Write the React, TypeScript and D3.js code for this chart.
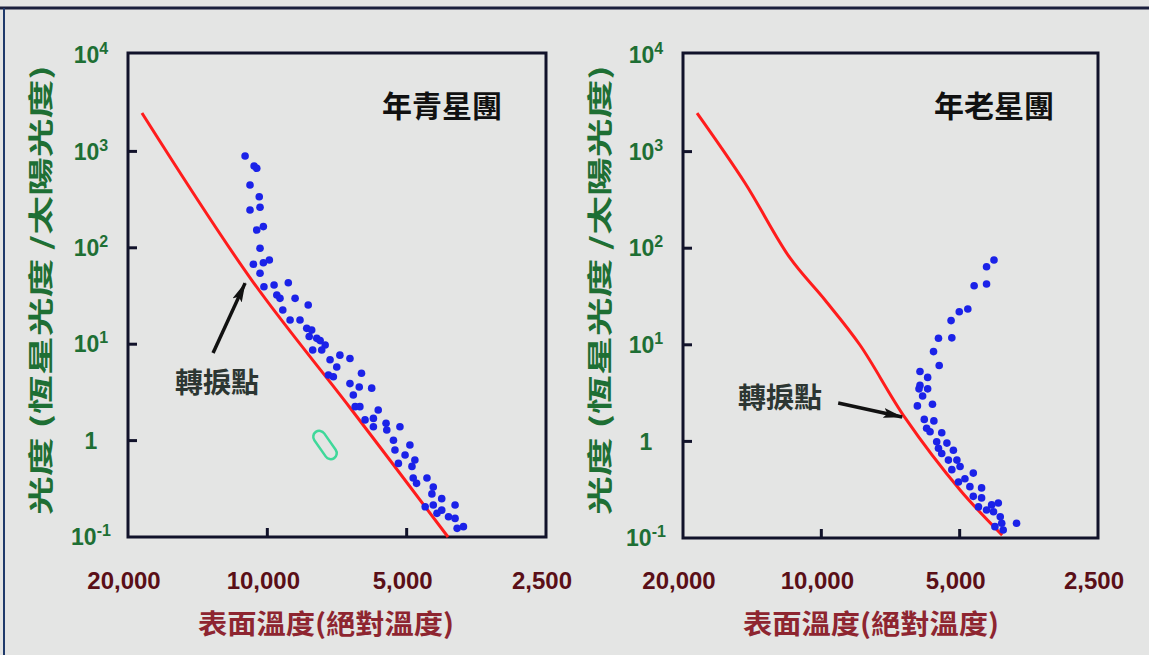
import React from "react";
import * as d3 from "d3";

const W = 1149;
const H = 655;

// axis ticks
const lumTicks = [0.1, 1, 10, 100, 1000, 10000];
const lumBase = ["10", "1", "10", "10", "10", "10"];
const lumExp = ["-1", "", "1", "2", "3", "4"];
const tempTicks = [20000, 10000, 5000, 2500];
const tempLabels = ["20,000", "10,000", "5,000", "2,500"];

// young cluster: main sequence line
const youngLineT = [18660, 10800, 6620, 4070];
const youngLineL = [2500, 46, 2.18, 0.1];

// young cluster: stars
const youngStarsT = [
  11170, 10680, 10540, 10900, 10410, 10900, 10370, 10200, 10540, 10370,
  10720, 10200, 9900, 10370, 10170, 9670, 9010, 9540, 9390, 8710,
  8160, 9260, 8930, 8500, 8220, 8020, 8120, 7820, 7690, 7500,
  7980, 7630, 6970, 6630, 7320, 7080, 7380, 7200, 6260, 6630,
  6330, 5950, 6520, 6460, 6310, 5900, 6150, 5760, 5540, 5900,
  5520, 5170, 5340, 4920, 5300, 5040, 4800, 5210, 4870, 4840,
  4520, 4760, 4380, 4410, 4200, 4560, 4380, 3930, 4200, 4060,
  3930, 3770, 3890, 4300,
];
const youngStarsL = [
  896, 706, 668, 448, 339, 247, 263, 166, 153, 98.8,
  67.4, 70, 74.7, 54.4, 39.5, 41.1, 43.4, 32.4, 29.9, 29.9,
  25.5, 22.6, 17.8, 17.8, 14.6, 14, 12, 11.5, 10.9, 9.8,
  8.7, 8.7, 7.7, 7.1, 6.9, 5.8, 4.8, 4.6, 5, 3.9,
  3.6, 3.5, 2.97, 2.25, 2.25, 1.7, 1.64, 2.08, 1.51, 1.39,
  1.29, 1.39, 1.01, 0.9, 0.8, 0.71, 0.63, 0.58, 0.54, 0.41,
  0.41, 0.36, 0.33, 0.28, 0.25, 0.206, 0.215, 0.215, 0.19, 0.162,
  0.156, 0.128, 0.123, 0.176,
];

// old cluster: main sequence line
const oldLineT = [18640, 14660, 11700, 9820, 8240, 6570, 4990, 4040];
const oldLineL = [2500, 473, 79.2, 29.1, 9.95, 1.75, 0.314, 0.107];

// old cluster: stars
const oldStarsT = [
  4210, 4370, 4370, 4650, 4800, 5010, 5220, 5200, 5560, 5700,
  5540, 6100, 5870, 6100, 6130, 5870, 6020, 5730, 6180, 5970,
  5690, 5900, 5800, 5470, 5610, 5330, 5560, 5470, 5160, 5290,
  5070, 4990, 5200, 4670, 4870, 5030, 4750, 4480, 4670, 4480,
  4260, 4120, 4550, 4220, 4370, 4080, 4050, 4190, 4020, 3760,
];
const oldStarsL = [
  75.5, 64.3, 42.6, 40.9, 23.5, 22, 17.8, 11.8, 11.7, 8.5,
  6.1, 5.3, 4.6, 3.8, 3.5, 3.5, 2.95, 2.42, 2.33, 1.69,
  1.63, 1.37, 1.26, 1.23, 0.99, 0.96, 0.85, 0.75, 0.81, 0.64,
  0.64, 0.55, 0.51, 0.47, 0.41, 0.38, 0.34, 0.33, 0.27, 0.26,
  0.22, 0.23, 0.21, 0.187, 0.195, 0.166, 0.142, 0.131, 0.121, 0.142,
];

// turnoff annotations [tailT, tailL, headT, headL, textT, textL]
const youngArrow = [13100, 8.1, 11170, 43, 12840, 4.0];
const oldArrow = [9190, 2.5, 6670, 1.79, 12300, 2.8];

const GREEN = "#1e6f34";
const MAROON = "#5a0f17";
const RED_TITLE = "#8e2530";
const INK = "#11122a";
const NUM_FONT = "'Liberation Sans', Arial, sans-serif";
const CJK_FONT = "'Noto Sans CJK TC', 'Noto Sans CJK SC', sans-serif";

type PanelProps = {
  id: string;
  xr: [number, number];
  yr: [number, number];
  title: string;
  lineT: number[];
  lineL: number[];
  starsT: number[];
  starsL: number[];
  arrow: number[];
  xTitleX: number;
  yTitleX: number;
};

function Panel(p: PanelProps) {
  const x = d3.scaleLog().domain([20000, 2500]).range(p.xr);
  const y = d3.scaleLog().domain([0.1, 10000]).range(p.yr);
  const [left, right] = p.xr;
  const [bottom, top] = p.yr;

  const line = d3
    .line<number>()
    .x((_, i) => x(p.lineT[i]))
    .y((_, i) => y(p.lineL[i]))
    .curve(d3.curveCatmullRom.alpha(0.5));

  const [tT, tL, hT, hL, txT, txL] = p.arrow;

  return (
    <g>
      <defs>
        <marker
          id={`head-${p.id}`}
          viewBox="0 0 20 10"
          refX="19"
          refY="5"
          markerWidth="20"
          markerHeight="10"
          markerUnits="userSpaceOnUse"
          orient="auto"
        >
          <path d="M0,0 L20,5 L0,10 L4,5 Z" fill="#111" />
        </marker>
      </defs>

      {/* frame */}
      <path
        d={`M${left},${top - 2} H${right} V${bottom} H${left} Z`}
        fill="none"
        stroke={INK}
        strokeWidth={3}
      />

      {/* y ticks */}
      {lumTicks.map((v, i) => (
        <g key={"yt" + i}>
          {i > 0 && i < lumTicks.length - 1 && (
            <line x1={left} x2={left + 9} y1={y(v)} y2={y(v)} stroke={INK} strokeWidth={3} />
          )}
          <text
            x={left - 37}
            y={y(v)}
            dy="0.36em"
            textAnchor="middle"
            fontFamily={NUM_FONT}
            fontWeight="bold"
            fontSize={23}
            fill={GREEN}
          >
            {lumBase[i]}
            {lumExp[i] && (
              <tspan dy="-9" fontSize={16}>
                {lumExp[i]}
              </tspan>
            )}
          </text>
        </g>
      ))}

      {/* x ticks */}
      {tempTicks.map((v, i) => (
        <g key={"xt" + i}>
          {i > 0 && i < tempTicks.length - 1 && (
            <line x1={x(v)} x2={x(v)} y1={bottom} y2={bottom - 9} stroke={INK} strokeWidth={3} />
          )}
          <text
            x={x(v) - 4}
            y={589}
            textAnchor="middle"
            fontFamily={NUM_FONT}
            fontWeight="bold"
            fontSize={24}
            fill={MAROON}
          >
            {tempLabels[i]}
          </text>
        </g>
      ))}

      {/* main sequence */}
      <path d={line(p.lineT) || ""} fill="none" stroke="#ff1c1c" strokeWidth={3} />

      {/* stars */}
      {p.starsT.map((t, i) => (
        <circle key={"s" + i} cx={x(t)} cy={y(p.starsL[i])} r={3.8} fill="#1b22e8" />
      ))}

      {/* turnoff annotation */}
      <line
        x1={x(tT)}
        y1={y(tL)}
        x2={x(hT)}
        y2={y(hL)}
        stroke="#111"
        strokeWidth={3.5}
        markerEnd={`url(#head-${p.id})`}
      />
      <text
        x={x(txT)}
        y={y(txL)}
        dy="0.36em"
        textAnchor="middle"
        fontFamily={CJK_FONT}
        fontWeight="bold"
        fontSize={28}
        fill="#2c3632"
      >
        轉捩點
      </text>

      {/* title */}
      <text
        x={right - 104}
        y={117}
        textAnchor="middle"
        fontFamily={CJK_FONT}
        fontWeight="bold"
        fontSize={30}
        fill="#111"
      >
        {p.title}
      </text>

      {/* axis titles */}
      <text
        x={p.xTitleX}
        y={634}
        textAnchor="middle"
        fontFamily={CJK_FONT}
        fontWeight="bold"
        fontSize={27}
        fill={RED_TITLE}
        textLength={256}
        lengthAdjust="spacingAndGlyphs"
      >
        表面溫度(絕對溫度)
      </text>
      <text
        transform={`translate(${p.yTitleX},290) rotate(-90)`}
        textAnchor="middle"
        dy="0.36em"
        fontFamily={CJK_FONT}
        fontWeight="bold"
        fontSize={25}
        fill={GREEN}
        textLength={450}
        lengthAdjust="spacingAndGlyphs"
      >
        光度 (恆星光度 /太陽光度)
      </text>
    </g>
  );
}

export default function App() {
  return (
    <svg
      width={W}
      height={H}
      style={{ position: "absolute", left: 0, top: 0, display: "block" }}
    >
      <rect width={W} height={H} fill="#e4e5e4" />
      <line x1={0} x2={W} y1={8} y2={8} stroke="#1a1f3c" strokeWidth={3} />
      <line x1={4} x2={4} y1={8} y2={H} stroke="#1f3a6a" strokeWidth={2} />

      <Panel
        id="young"
        xr={[128, 546]}
        yr={[537, 55]}
        title="年青星團"
        lineT={youngLineT}
        lineL={youngLineL}
        starsT={youngStarsT}
        starsL={youngStarsL}
        arrow={youngArrow}
        xTitleX={326}
        yTitleX={41}
      />
      <Panel
        id="old"
        xr={[683, 1098]}
        yr={[538, 55]}
        title="年老星團"
        lineT={oldLineT}
        lineL={oldLineL}
        starsT={oldStarsT}
        starsL={oldStarsL}
        arrow={oldArrow}
        xTitleX={871}
        yTitleX={600}
      />

      {/* green pen mark in the left panel */}
      <rect
        x={-6}
        y={-16}
        width={12}
        height={32}
        rx={6}
        fill="none"
        stroke="#3fd89a"
        strokeWidth={2.5}
        transform="translate(325,445) rotate(-35)"
      />
    </svg>
  );
}
